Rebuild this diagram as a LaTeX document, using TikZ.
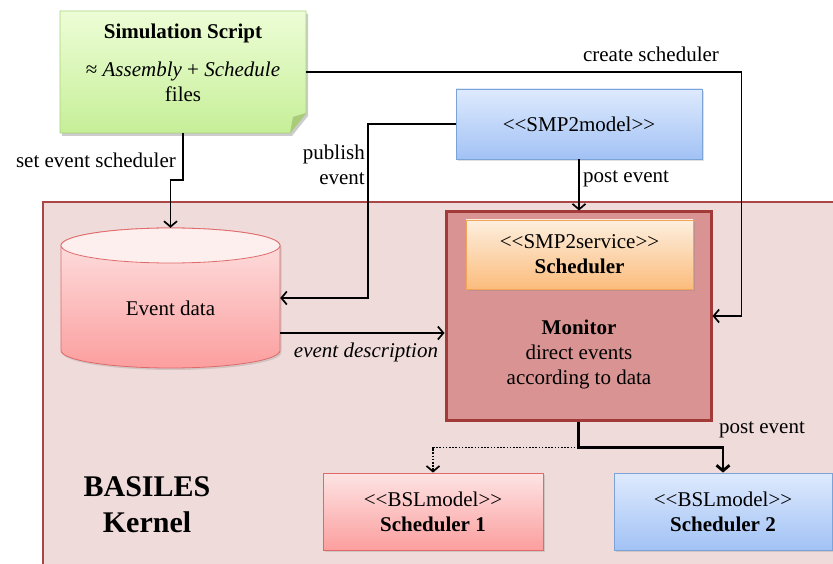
\documentclass[tikz,border=0pt]{standalone}
\usepackage{fontspec}
\setmainfont{Liberation Serif}
\usetikzlibrary{arrows.meta,shadows,calc}

\definecolor{notetop}{HTML}{EDFDD6}
\definecolor{notebot}{HTML}{C6EF98}
\definecolor{noteedge}{HTML}{A9D17C}
\definecolor{notefold}{HTML}{A8CC7A}
\definecolor{bluetop}{HTML}{DEEAFD}
\definecolor{bluebot}{HTML}{A2C2F5}
\definecolor{blueedge}{HTML}{7BA3D8}
\definecolor{orgtop}{HTML}{FDEFDF}
\definecolor{orgbot}{HTML}{FBBC7C}
\definecolor{orgedge}{HTML}{F2A45A}
\definecolor{pinktop}{HTML}{FDE4E4}
\definecolor{pinkbot}{HTML}{FC9E9E}
\definecolor{pinkedge}{HTML}{E06A6A}
\definecolor{kernfill}{HTML}{F0DBDB}
\definecolor{kernedge}{HTML}{AA4646}
\definecolor{monfill}{HTML}{D99393}
\definecolor{monedge}{HTML}{A23A3A}

% stereotype brackets without the << ligature
\newcommand{\stereo}[1]{<{}<#1>{}>}

\tikzset{
  txt/.style={font=\fontsize{21}{25}\selectfont, inner sep=0pt, text=black},
  boxshadow/.style={drop shadow={opacity=0.25, shadow xshift=1.5pt, shadow yshift=-2pt}},
  bluebox/.style={txt, draw=blueedge, line width=0.8pt, top color=bluetop, bottom color=bluebot, align=center, boxshadow},
  orgbox/.style={txt, draw=orgedge, line width=0.8pt, top color=orgtop, bottom color=orgbot, align=center, boxshadow},
  pinkbox/.style={txt, draw=pinkedge, line width=0.8pt, top color=pinktop, bottom color=pinkbot, align=center, boxshadow},
  conn/.style={line width=1.7pt, -{Straight Barb[length=5.5pt,width=13pt,line width=1.7pt]}},
  thickconn/.style={line width=2.8pt, -{Straight Barb[length=5.5pt,width=13pt,line width=2.8pt]}},
  dotconn/.style={line width=1.8pt, dash pattern=on 1.6pt off 1.6pt, -{Straight Barb[length=5.5pt,width=13pt,line width=1.7pt]}},
  lbl/.style={txt}
}

\begin{document}
\begin{tikzpicture}[x=1pt,y=-1pt]
\useasboundingbox (0,0) rectangle (833,564);
\clip (0,0) rectangle (833,564);

% kernel region
\draw[fill=kernfill, draw=kernedge, line width=1.5pt] (43,202) rectangle (850,580);

% simulation script note with folded corner
\fill[black, opacity=0.2] (62,14) -- (308,14) -- (308,116) -- (292,136) -- (62,136) -- cycle;
\shade[top color=notetop, bottom color=notebot] (60,11) -- (306,11) -- (306,113) -- (290,133) -- (60,133) -- cycle;
\draw[noteedge, line width=0.8pt] (60,11) -- (306,11) -- (306,113) -- (290,133) -- (60,133) -- cycle;
\fill[notefold] (290,133) -- (306,113) -- (293,117) -- cycle;
\node[minimum width=246pt, minimum height=122pt, inner sep=0pt] (script) at (183,72) {};
\node[txt, font=\fontsize{21}{25}\selectfont\bfseries] (scripttitle) at (183,33) {Simulation Script};
\node[txt, align=center] (scriptsub) at (183,82) {≈ \textit{Assembly} + \textit{Schedule}\\files};

% SMP2 model
\node[bluebox, minimum width=246pt, minimum height=70pt] (smp) at (579,124) {\stereo{SMP2model}};

% event data cylinder
\node[minimum width=219pt, minimum height=140pt, inner sep=0pt] (ev) at (170.5,298) {};
\shade[top color=pinktop, bottom color=pinkbot, draw=pinkedge, line width=0.8pt, drop shadow={opacity=0.25, shadow xshift=1.5pt, shadow yshift=-2pt}]
  (61,245.5) -- (61,350.5) arc[start angle=180, end angle=360, x radius=109.5pt, y radius=17.5pt]
  -- (280,245.5) arc[start angle=0, end angle=180, x radius=109.5pt, y radius=17.5pt] -- cycle;
\draw[pinkedge, line width=0.8pt, fill=pinktop!60!white] (170.5,245.5) ellipse[x radius=109.5pt, y radius=17.5pt];
\node[txt] (evtxt) at (170.5,308) {Event data};

% monitor
\node[fill=monfill, draw=monedge, line width=3pt, minimum width=265pt, minimum height=208pt, inner sep=0pt, boxshadow] (mon) at (578.5,316) {};
\node[orgbox, minimum width=227pt, minimum height=69pt] (svc) at (579.5,254.5) {\stereo{SMP2service}\\\textbf{Scheduler}};
\node[txt, align=center] (montxt) at (579,354) {\textbf{Monitor}\\direct events\\according to data};

% schedulers
\node[pinkbox, minimum width=220pt, minimum height=77pt] (s1) at (433,511.5) {\stereo{BSLmodel}\\\textbf{Scheduler 1}};
\node[bluebox, minimum width=218pt, minimum height=77pt] (s2) at (723,511.5) {\stereo{BSLmodel}\\\textbf{Scheduler 2}};

% kernel label
\node[txt, font=\fontsize{30}{36}\selectfont\bfseries, align=center] (kernel) at (147,505) {BASILES\\Kernel};

% connectors
\draw[conn] (script.south) -- ++(0,47) -| (ev.north);
\draw[conn] (script.east) -| ($(mon.east)+(29,0)$) -- (mon.east);
\draw[conn] (smp.west) -| ($(ev.east)+(87.5,0)$) -- (ev.east);
\draw[conn] ($(ev.east)+(0,35)$) -- ($(mon.west)+(0,17)$);
\draw[conn] (smp.south) -- (smp.south |- mon.north);
\coordinate (split) at ($(mon.south)+(0,26)$);
\draw[dotconn] (split) -| (s1.north);
\draw[thickconn] (mon.south) -- (split) -| (s2.north);

% connector labels
\node[lbl, anchor=east] (l1) at (176,160) {set event scheduler};
\node[lbl, anchor=east, align=right] (l2) at (365,165) {publish\\event};
\node[lbl] (l3) at (651,54) {create scheduler};
\node[lbl, anchor=west] (l4) at (583,179) {post event};
\node[lbl, font=\fontsize{21}{25}\selectfont\itshape] (l5) at (366,352) {event description};
\node[lbl] (l6) at (762,430) {post event};
\end{tikzpicture}
\end{document}
